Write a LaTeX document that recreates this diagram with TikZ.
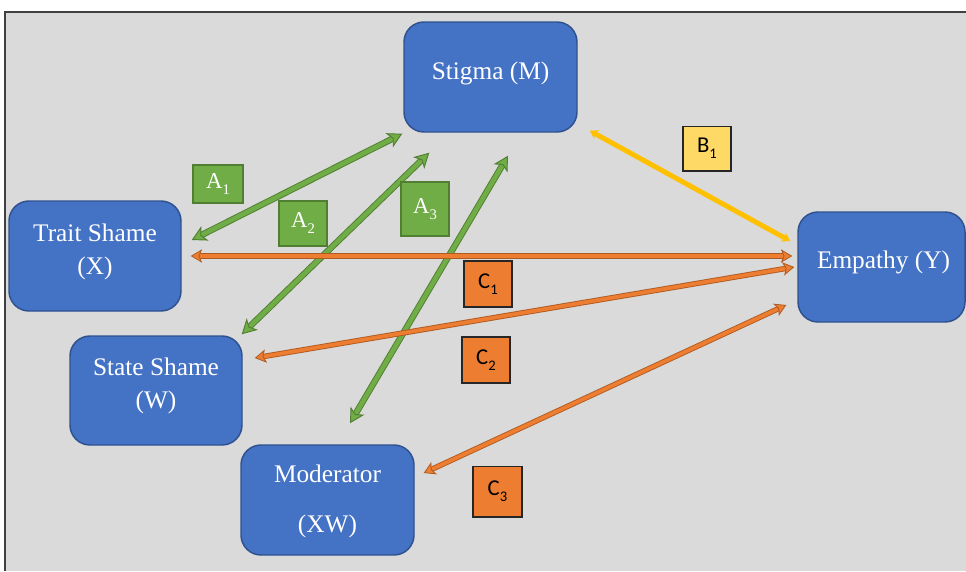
\documentclass[tikz,border=0pt]{standalone}
\usepackage{fontspec}
\setmainfont{Liberation Serif}
\newfontfamily\calibfont{Carlito}
\usetikzlibrary{arrows.meta,calc}
\definecolor{bggray}{HTML}{DADADA}
\definecolor{boxblue}{HTML}{4472C4}
\definecolor{boxblueedge}{HTML}{2F528F}
\definecolor{agreen}{HTML}{70AD47}
\definecolor{agreendark}{HTML}{507E32}
\definecolor{corange}{HTML}{ED7D31}
\definecolor{corangedark}{HTML}{AE5A21}
\definecolor{byellow}{HTML}{FFC000}
\definecolor{blabelfill}{HTML}{FFD966}
\newcommand{\lblsub}[2]{#1\raisebox{-4.5pt}{\fontsize{11}{11}\selectfont #2}}
\tikzset{
  gtip/.tip={Stealth[length=11pt,width=12pt,inset=3pt,fill=agreen,color=agreendark,line width=0.7pt]},
  otip/.tip={Stealth[length=8.5pt,width=10pt,inset=2pt,fill=corange,color=corangedark,line width=0.6pt]},
  ytip/.tip={Stealth[length=6pt,width=7.5pt]}
}
\begin{document}
\begin{tikzpicture}[x=0.75pt,y=-0.75pt,
  varbox/.style={rectangle, rounded corners=15pt, fill=boxblue, draw=boxblueedge, line width=1.1pt, inner sep=0pt},
  vartext/.style={text=white, align=center, inner sep=0pt, font=\fontsize{19}{24.5}\selectfont},
  alabel/.style={rectangle, fill=agreen, draw=agreendark, line width=1.5pt, inner sep=0pt, text=white, font=\fontsize{17}{17}\selectfont},
  clabel/.style={rectangle, fill=corange, draw=black!85, line width=1pt, inner sep=0pt, text=black, font=\calibfont\fontsize{17}{17}\selectfont},
  blabel/.style={clabel, fill=blabelfill},
  garrow/.style={draw=agreen, line width=3.4pt,
    preaction={draw=agreendark, line width=4.8pt, arrows=-, shorten <=8pt, shorten >=8pt},
    arrows={gtip-gtip}},
  oarrow/.style={draw=corange, line width=2.8pt,
    preaction={draw=corangedark, line width=4.1pt, arrows=-, shorten <=6pt, shorten >=6pt},
    arrows={otip-otip}},
  yarrow/.style={draw=byellow, line width=3.7pt, arrows={ytip-ytip}}
]
\useasboundingbox (0,0) rectangle (966,571);
\fill[white] (0,0) rectangle (966,571);
\fill[bggray] (5,12) rectangle (966,571);
\draw[line width=1.1pt, black!75] (5,571) -- (5,12) -- (966,12);

% variable boxes
\node[varbox, minimum width=129.75pt, minimum height=82.5pt] (stig) at (490.5,77) {};
\node[varbox, minimum width=129pt, minimum height=82.5pt] (trait) at (95,256) {};
\node[varbox, minimum width=129pt, minimum height=81.75pt] (state) at (156,390.5) {};
\node[varbox, minimum width=129.75pt, minimum height=82.5pt] (moder) at (327.5,500) {};
\node[varbox, minimum width=125.25pt, minimum height=82.5pt] (emp) at (881.5,267) {};

\node[vartext] (stigT) at ($(stig)+(0,-4)$) {Stigma (M)};
\node[vartext] (traitT) at ($(trait)+(0,-4)$) {Trait Shame\\(X)};
\node[vartext] (stateT) at ($(state)+(0,-4.5)$) {State Shame\\(W)};
\node[vartext, font=\fontsize{19}{37.5}\selectfont] (moderT) at ($(moder)+(0,1)$) {Moderator\\(XW)};
\node[vartext] (empT) at ($(emp)+(2,-5)$) {Empathy (Y)};

% connectors
\draw[garrow] ($(trait.east)+(10,-16)$) -- ($(stig.south west)+(-1,1)$);
\draw[garrow] ($(state.north east)+(-1,-1)$) -- ($(stig.south west)+(26,20)$);
\draw[garrow] ($(moder.north)+(22.5,-21)$) -- ($(stig.south)+(17.5,23)$);
\draw[yarrow] ($(stig.south east)+(12,-2)$) -- ($(emp.west)+(-7,-26)$);
\draw[oarrow] ($(trait.east)+(9,0)$) -- ($(emp.west)+(-5,-11)$);
\draw[oarrow] ($(state.east)+(12,-32.5)$) -- ($(emp.west)+(-3,0)$);
\draw[oarrow] ($(moder.east)+(9,-27)$) -- ($(emp.west)+(-11,38)$);

% path labels
\node[alabel, minimum width=37.5pt, minimum height=29pt] (a1) at (218,184) {\lblsub{A}{1}};
\node[alabel, minimum width=36.5pt, minimum height=34pt] (a2) at (303,223.5) {\lblsub{A}{2}};
\node[alabel, minimum width=36pt, minimum height=40.5pt] (a3) at (425,209) {\lblsub{A}{3}};
\node[blabel, minimum width=36pt, minimum height=33.5pt] (b1) at (707,148.5) {\lblsub{B}{1}};
\node[clabel, minimum width=36pt, minimum height=34.5pt] (c1) at (488,284) {\lblsub{C}{1}};
\node[clabel, minimum width=36pt, minimum height=34.5pt] (c2) at (486,360) {\lblsub{C}{2}};
\node[clabel, minimum width=36.75pt, minimum height=38pt] (c3) at (497.5,491.5) {\lblsub{C}{3}};
\end{tikzpicture}
\end{document}
